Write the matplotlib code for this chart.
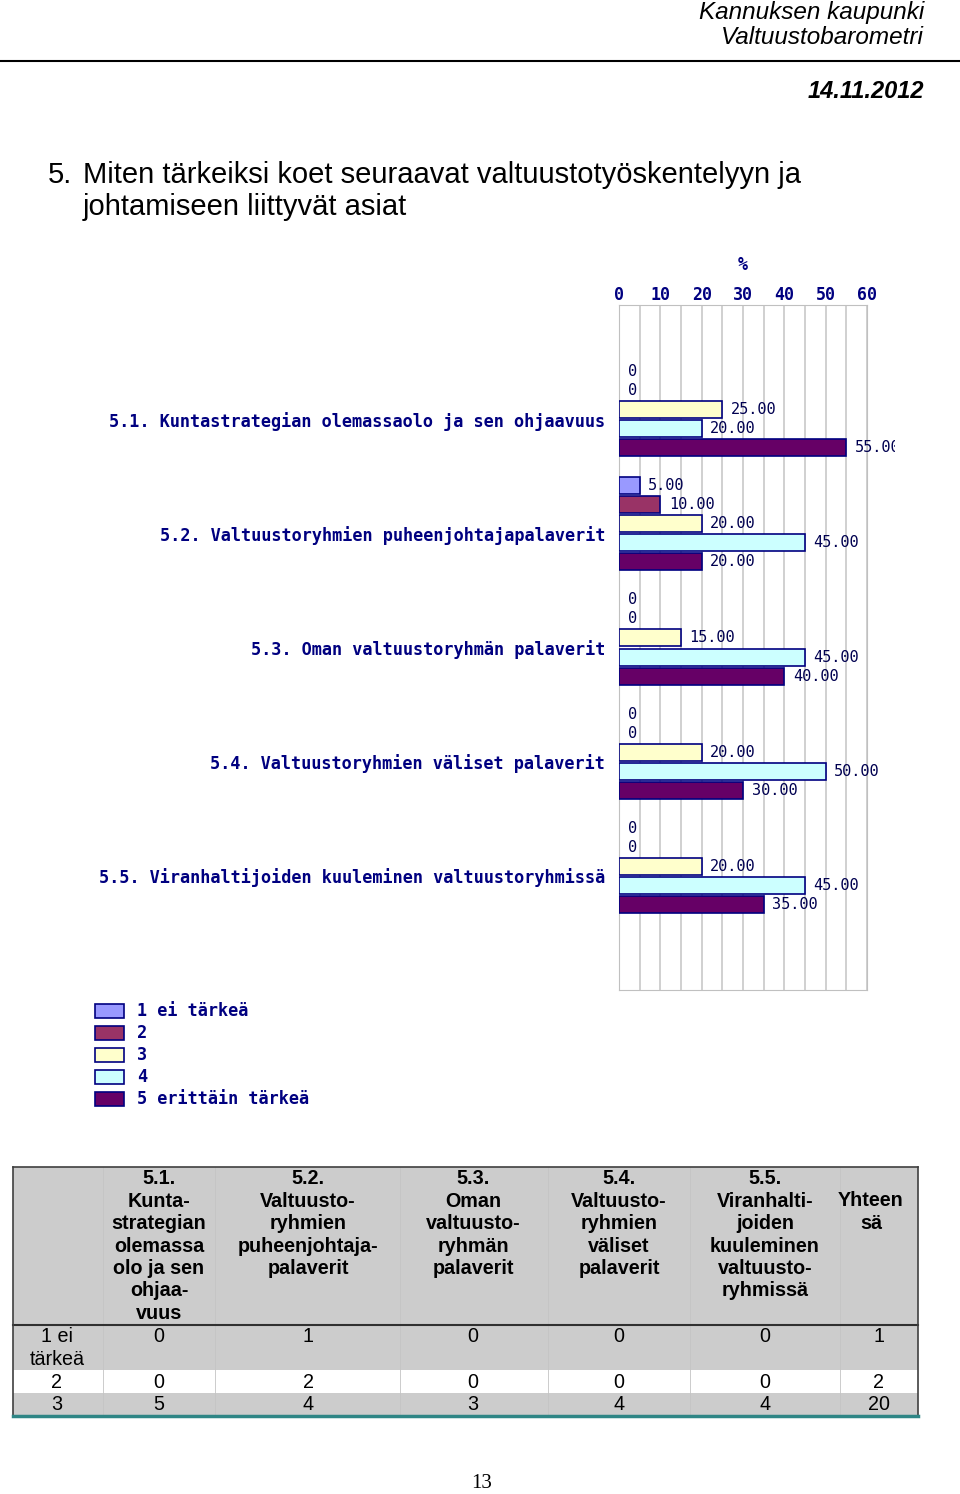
import matplotlib
matplotlib.use("Agg")
import matplotlib.pyplot as plt
from matplotlib.patches import Rectangle
from matplotlib.transforms import Bbox
import numpy as np

# chart data (percent)
categories = [
    "5.1. Kuntastrategian olemassaolo ja sen ohjaavuus",
    "5.2. Valtuustoryhmien puheenjohtajapalaverit",
    "5.3. Oman valtuustoryhmän palaverit",
    "5.4. Valtuustoryhmien väliset palaverit",
    "5.5. Viranhaltijoiden kuuleminen valtuustoryhmissä",
]
series_names = ["1 ei tärkeä", "2", "3", "4", "5 erittäin tärkeä"]
s1 = [0, 5, 0, 0, 0]
s2 = [0, 10, 0, 0, 0]
s3 = [25, 20, 15, 20, 20]
s4 = [20, 45, 45, 50, 45]
s5 = [55, 20, 40, 30, 35]
series = [s1, s2, s3, s4, s5]
colors = ["#9999ff", "#993366", "#ffffcc", "#ccffff", "#660066"]
xticks = [0, 10, 20, 30, 40, 50, 60]

# table data (counts)
table_header = ["", "5.1.\nKunta-\nstrategian\nolemassa\nolo ja sen\nohjaa-\nvuus",
                "5.2.\nValtuusto-\nryhmien\npuheenjohtaja-\npalaverit",
                "5.3.\nOman\nvaltuusto-\nryhmän\npalaverit",
                "5.4.\nValtuusto-\nryhmien\nväliset\npalaverit",
                "5.5.\nViranhalti-\njoiden\nkuuleminen\nvaltuusto-\nryhmissä",
                "Yhteen\nsä"]
row_labels = ["1 ei\ntärkeä", "2", "3"]
row_values = [[0, 1, 0, 0, 0, 1],
              [0, 2, 0, 0, 0, 2],
              [5, 4, 3, 4, 4, 20]]

W, H = 960, 1494
fig = plt.figure(figsize=(W / 100, H / 100), dpi=100)
navy = "#000080"
mono = "DejaVu Sans Mono"

def frac(x0, y0, x1, y1):
    return [x0 / W, 1 - y1 / H, (x1 - x0) / W, (y1 - y0) / H]

# page layer in pixel coordinates
page = fig.add_axes([0, 0, 1, 1], zorder=0)
page.set_xlim(0, W)
page.set_ylim(H, 0)
page.axis("off")

page.text(924, 12, "Kannuksen kaupunki", ha="right", va="center", fontsize=17.5,
          style="italic", family="Liberation Sans")
page.text(924, 38, "Valtuustobarometri", ha="right", va="center", fontsize=17.5,
          style="italic", family="Liberation Sans")
page.plot([0, 960], [61, 61], color="black", lw=1.5)
page.text(924, 92, "14.11.2012", ha="right", va="center", fontsize=17,
          style="italic", weight="bold", family="Liberation Sans")
page.text(48, 175, "5.", ha="left", va="center", fontsize=21, family="Liberation Sans")
page.text(83, 175, "Miten tärkeiksi koet seuraavat valtuustotyöskentelyyn ja",
          ha="left", va="center", fontsize=21, family="Liberation Sans")
page.text(83, 207, "johtamiseen liittyvät asiat", ha="left", va="center",
          fontsize=21, family="Liberation Sans")

# chart
ax = fig.add_axes(frac(619, 305, 867, 990), zorder=1)
n = len(categories)
y = np.arange(n)
bar_h = 17 / 114
clip = Bbox.from_extents(0, 0, 895, H)
for k, (vals, c) in enumerate(zip(series, colors)):
    pos = y + (k - 2.5) / 6
    for p, v in zip(pos, vals):
        if v > 0:
            ax.barh(p, v, height=bar_h, color=c, edgecolor=navy, linewidth=1.2, zorder=3)
        lbl = "0" if v == 0 else "%.2f" % v
        t = ax.text(v + 2.1, p, lbl, ha="left", va="center", fontsize=11,
                    family=mono, color="#000050", zorder=4)
        t.set_clip_box(clip)
        t.set_clip_on(True)

ax.set_xlim(0, 60)
ax.set_ylim(n - 1 + 1.0, -1.0)
ax.xaxis.tick_top()
ax.set_xticks(xticks)
ax.set_xticklabels([str(v) for v in xticks], family=mono, weight="bold",
                   fontsize=12, color=navy)
ax.set_xticks(np.arange(0, 61, 5), minor=True)
ax.tick_params(axis="x", which="both", length=0, pad=0.5)
ax.grid(True, axis="x", which="both", color="#c8c8c8", lw=1.2, zorder=0)
ax.set_yticks(y)
ax.set_yticklabels(categories, family=mono, weight="bold", fontsize=12.2, color=navy)
ax.tick_params(axis="y", length=0, pad=10)
for s in ax.spines.values():
    s.set_color("#c0c0c0")
ax.set_xlabel("%", family=mono, weight="bold", fontsize=12, color=navy, labelpad=12)
ax.xaxis.set_label_position("top")

# legend
for i, (name, c) in enumerate(zip(series_names, colors)):
    yc = 1011 + i * 22
    page.add_patch(Rectangle((95, yc - 7), 29, 14, facecolor=c, edgecolor=navy, lw=1.2))
    page.text(137, yc, name, ha="left", va="center", family=mono, weight="bold",
              fontsize=12.2, color=navy)

# table
tx0, tx1 = 13, 918
col_edges = [13, 103, 215, 400, 548, 690, 840, 918]
col_centers = [57, 159, 308, 473, 619, 765, 871]
hdr_top, hdr_bot = 1167, 1325
row_tops = [1326, 1371, 1393]
row_bots = [1370, 1392, 1415]
row_fill = ["#cccccc", "#ffffff", "#cccccc"]

page.add_patch(Rectangle((tx0, hdr_top), tx1 - tx0, hdr_bot - hdr_top,
                         facecolor="#cccccc", edgecolor="none"))
for t0, b0, fc in zip(row_tops, row_bots, row_fill):
    page.add_patch(Rectangle((tx0, t0), tx1 - tx0, b0 - t0, facecolor=fc, edgecolor="none"))
for xe in col_edges[1:-1]:
    page.plot([xe, xe], [hdr_top, 1415], color="#c4c4c4", lw=0.6)
page.plot([tx0, tx1], [hdr_top, hdr_top], color="#404040", lw=1.2)
page.plot([tx0, tx1], [hdr_bot, hdr_bot], color="#303030", lw=1.5)
page.plot([tx0, tx0], [hdr_top, 1416], color="#404040", lw=1.2)
page.plot([tx1, tx1], [hdr_top, 1416], color="#404040", lw=1.2)
page.plot([tx0, tx1], [1416, 1416], color="#2e8585", lw=2.5)

tfs = 14.2
for xc, h in zip(col_centers, table_header):
    yc = 1201 if xc == col_centers[-1] else 1179
    lines = h.split("\n")
    for j, line in enumerate(lines):
        page.text(xc, yc + j * 22.4, line, ha="center", va="center", fontsize=tfs,
                  weight="bold", family="Liberation Sans")

val_centers = [159, 308, 473, 619, 765, 879]
row_centers = [1337, 1382, 1404]
for r, (lbl, vals) in enumerate(zip(row_labels, row_values)):
    yc = row_centers[r]
    for j, line in enumerate(lbl.split("\n")):
        page.text(57, yc + j * 22.4, line, ha="center", va="center", fontsize=tfs,
                  family="Liberation Sans")
    for xc, v in zip(val_centers, vals):
        page.text(xc, yc, str(v), ha="center", va="center", fontsize=tfs,
                  family="Liberation Sans")

page.text(482, 1484, "13", ha="center", va="center", fontsize=15,
          family="Liberation Serif")

fig.savefig("out.png", dpi=100)
